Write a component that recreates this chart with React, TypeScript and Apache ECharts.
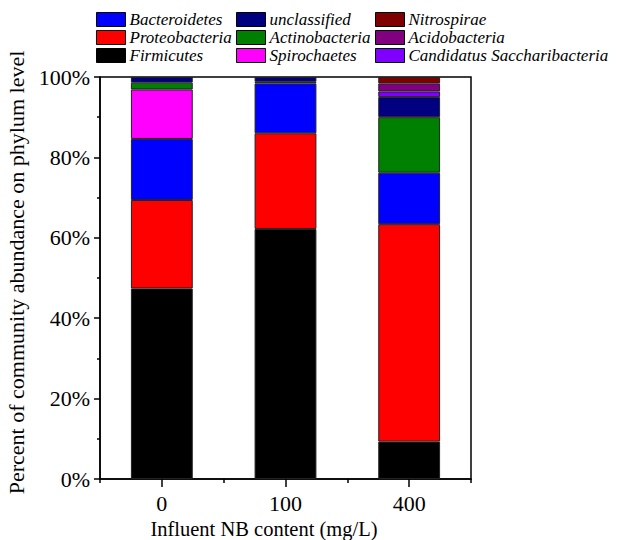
import React, { useEffect, useRef } from "react";
import * as echarts from "echarts";

const categories = ["0", "100", "400"];
const firmicutes = [47.4, 62.2, 9.3];
const proteobacteria = [22.0, 23.8, 54.1];
const bacteroidetes = [15.2, 12.4, 12.8];
const spirochaetes = [12.3, null, null];
const actinobacteria = [1.7, 0.4, 13.8];
const unclassified = [1.4, 1.2, 5.0];
const candidatus = [null, null, 1.4];
const acidobacteria = [null, null, 2.0];
const nitrospirae = [null, null, 1.6];
const yTicks = [0, 20, 40, 60, 80, 100];

const FONT = "Liberation Serif";

const seriesDefs = [
  { name: "Firmicutes", data: firmicutes, color: "#000000" },
  { name: "Proteobacteria", data: proteobacteria, color: "#FF0000" },
  { name: "Bacteroidetes", data: bacteroidetes, color: "#0000FF" },
  { name: "Spirochaetes", data: spirochaetes, color: "#FF00FF" },
  { name: "Actinobacteria", data: actinobacteria, color: "#008000" },
  { name: "unclassified", data: unclassified, color: "#000080" },
  { name: "Candidatus Saccharibacteria", data: candidatus, color: "#8000FF" },
  { name: "Acidobacteria", data: acidobacteria, color: "#800080" },
  { name: "Nitrospirae", data: nitrospirae, color: "#800000" },
];

const legendCols = [
  ["Bacteroidetes", "Proteobacteria", "Firmicutes"],
  ["unclassified", "Actinobacteria", "Spirochaetes"],
  ["Nitrospirae", "Acidobacteria", "Candidatus Saccharibacteria"],
];
const legendLefts = [96, 236, 375];

export default function App() {
  const ref = useRef<HTMLDivElement>(null);
  useEffect(() => {
    if (!ref.current) return;
    const chart = echarts.init(ref.current, null, { renderer: "svg" });
    const option: any = {
      animation: false,
      backgroundColor: "#ffffff",
      textStyle: { fontFamily: FONT },
      grid: {
        left: 100,
        right: 162,
        top: 77,
        bottom: 61,
        containLabel: false,
        outerBoundsMode: "none",
        show: true,
        borderColor: "#000",
        borderWidth: 1.5,
        backgroundColor: "transparent",
      },
      legend: legendCols.map((col, i) => ({
        data: col,
        orient: "vertical",
        left: legendLefts[i],
        top: 11,
        itemWidth: 29,
        itemHeight: 14,
        itemGap: 1,
        padding: 0,
        icon: "rect",
        selectedMode: false,
        itemStyle: { borderColor: "#000", borderWidth: 1 },
        textStyle: {
          fontFamily: FONT,
          fontStyle: "italic",
          fontSize: 17,
          lineHeight: 16,
          color: "#000",
          padding: [0, 0, 0, -1],
        },
      })),
      xAxis: [
        {
          type: "category",
          data: categories,
          position: "bottom",
          name: "Influent NB content (mg/L)",
          nameLocation: "middle",
          nameGap: 29,
          nameTextStyle: {
            fontFamily: FONT,
            fontSize: 20.5,
            lineHeight: 20,
            color: "#000",
            padding: [0, 43, 0, 0],
          },
          axisLine: { show: true, lineStyle: { color: "#000", width: 1.5 } },
          axisTick: { show: true, alignWithLabel: true, length: 8, lineStyle: { color: "#000", width: 1.5 } },
          axisLabel: { fontFamily: FONT, fontSize: 22, color: "#000", margin: 13 },
          splitLine: { show: false },
        },
        {
          type: "category",
          data: categories,
          position: "bottom",
          axisLine: { show: false },
          axisTick: { show: true, length: 4, lineStyle: { color: "#000", width: 1.5 } },
          axisLabel: { show: false },
          splitLine: { show: false },
        },
      ],
      yAxis: {
        type: "value",
        min: 0,
        max: 100,
        interval: 20,
        name: "Percent of community abundance on phylum level",
        nameLocation: "middle",
        nameGap: 66,
        nameTextStyle: { fontFamily: FONT, fontSize: 22, color: "#000", padding: [0, 0, 0, 11] },
        axisLine: { show: true, lineStyle: { color: "#000", width: 1.5 } },
        axisTick: { show: true, length: 6, lineStyle: { color: "#000", width: 1.5 } },
        minorTick: { show: true, splitNumber: 2, length: 3, lineStyle: { color: "#000", width: 1.5 } },
        axisLabel: {
          fontFamily: FONT,
          fontSize: 22,
          color: "#000",
          margin: 10,
          formatter: (v: number) => (yTicks.includes(v) ? v + "%" : ""),
        },
        splitLine: { show: false },
      },
      series: seriesDefs.map((s) => ({
        name: s.name,
        type: "bar",
        stack: "total",
        xAxisIndex: 0,
        barWidth: "50%",
        data: s.data,
        itemStyle: { color: s.color, borderColor: "#222", borderWidth: 1 },
      })),
    };
    chart.setOption(option);
    return () => chart.dispose();
  }, []);
  return (
    <div
      ref={ref}
      style={{ position: "fixed", left: 0, top: 0, width: 633, height: 540, background: "#fff" }}
    />
  );
}
